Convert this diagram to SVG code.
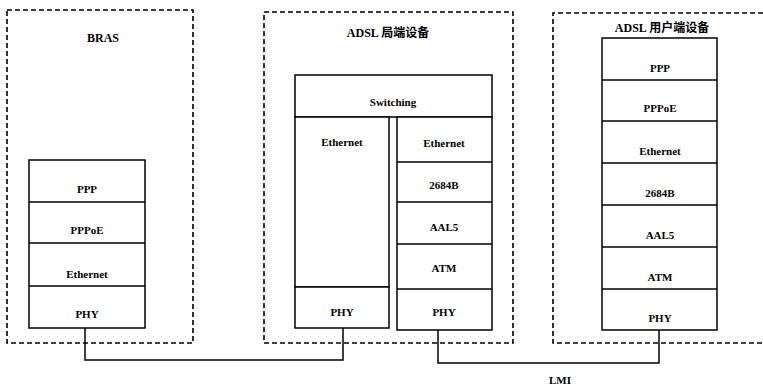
<svg xmlns="http://www.w3.org/2000/svg" width="763" height="388" viewBox="0 0 763 388">
<style>
.bg{fill:#fff}
.dash{fill:none;stroke:#000;stroke-width:1.6;stroke-dasharray:5,3}
.box{fill:#fff;stroke:#000;stroke-width:1.5}
.ln{fill:none;stroke:#000;stroke-width:1.5}
text{font-family:'Liberation Serif','Times New Roman',serif;font-weight:bold;font-size:11px;fill:#000;text-anchor:middle}
.t{font-size:12px}
.cjk{font-family:'Noto Sans CJK SC',sans-serif;font-size:12px}
</style>
<rect class="bg" x="0" y="0" width="763" height="388"/>
<g id="bras">
<rect class="dash" x="7" y="10" width="186" height="333"/>
<text class="t" x="103" y="42">BRAS</text>
<rect class="box" x="29" y="160" width="116" height="168"/>
<line class="ln" x1="29" y1="202" x2="145" y2="202"/>
<line class="ln" x1="29" y1="243" x2="145" y2="243"/>
<line class="ln" x1="29" y1="286" x2="145" y2="286"/>
<text x="87" y="193">PPP</text>
<text x="87" y="234">PPPoE</text>
<text x="87" y="278">Ethernet</text>
<text x="87" y="318">PHY</text>
</g>
<g id="adsl-co">
<rect class="dash" x="264" y="12" width="249" height="331"/>
<text class="t" x="388" y="37">ADSL <tspan class="cjk">局端设备</tspan></text>
<rect class="box" x="295" y="75" width="197" height="42"/>
<text x="393" y="106">Switching</text>
<rect class="box" x="295" y="117" width="94" height="170"/>
<rect class="box" x="295" y="287" width="94" height="41"/>
<text x="342" y="146">Ethernet</text>
<text x="342" y="316">PHY</text>
<rect class="box" x="397" y="117" width="95" height="213"/>
<line class="ln" x1="397" y1="162" x2="492" y2="162"/>
<line class="ln" x1="397" y1="202" x2="492" y2="202"/>
<line class="ln" x1="397" y1="244" x2="492" y2="244"/>
<line class="ln" x1="397" y1="289" x2="492" y2="289"/>
<text x="444" y="147">Ethernet</text>
<text x="444" y="189">2684B</text>
<text x="444" y="231">AAL5</text>
<text x="444" y="272">ATM</text>
<text x="444" y="316">PHY</text>
</g>
<g id="adsl-cpe">
<path class="dash" d="M763 13 H553 V343 H763"/>
<text class="t" x="662" y="32">ADSL <tspan class="cjk">用户端设备</tspan></text>
<rect class="box" x="602" y="38" width="115" height="292"/>
<line class="ln" x1="602" y1="80" x2="717" y2="80"/>
<line class="ln" x1="602" y1="121" x2="717" y2="121"/>
<line class="ln" x1="602" y1="163" x2="717" y2="163"/>
<line class="ln" x1="602" y1="205" x2="717" y2="205"/>
<line class="ln" x1="602" y1="247" x2="717" y2="247"/>
<line class="ln" x1="602" y1="289" x2="717" y2="289"/>
<text x="660" y="72">PPP</text>
<text x="660" y="112">PPPoE</text>
<text x="660" y="155">Ethernet</text>
<text x="660" y="197">2684B</text>
<text x="660" y="239">AAL5</text>
<text x="660" y="281">ATM</text>
<text x="660" y="322">PHY</text>
</g>
<g id="connectors">
<path class="ln" d="M85 328 V360 H343 V328"/>
<path class="ln" d="M438 330 V363 H659 V330"/>
<text x="560" y="384">LMI</text>
</g>
</svg>
